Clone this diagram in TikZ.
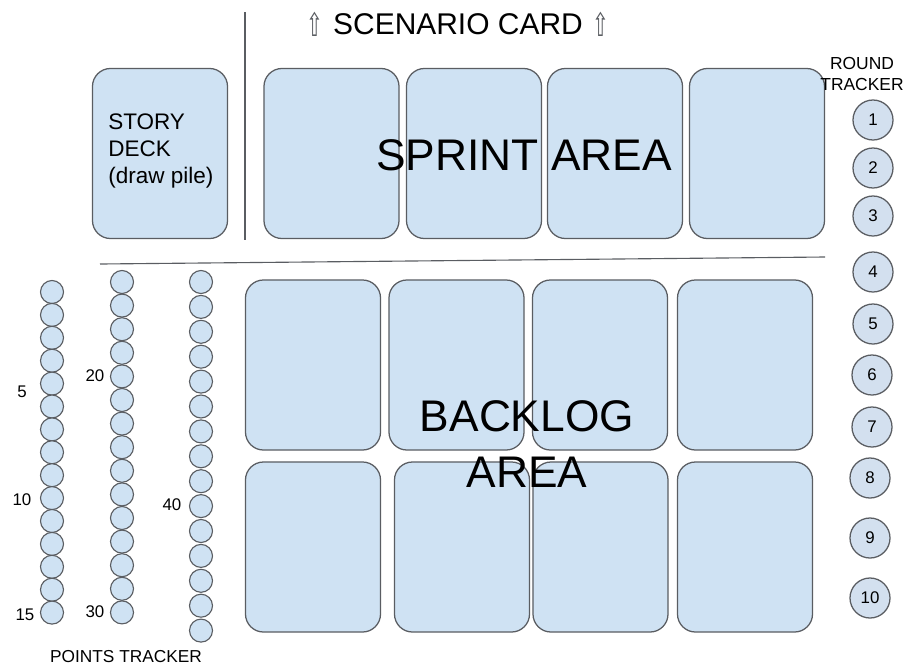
\documentclass[tikz,border=0pt]{standalone}
\usepackage{fontspec}
\setmainfont{Liberation Sans}
\newfontfamily\arrowfont{DejaVu Sans}
\usetikzlibrary{positioning}
\definecolor{cardblue}{HTML}{CFE2F3}
\definecolor{tokenblue}{HTML}{D3E0EF}
\definecolor{edgegray}{HTML}{5A5D62}
\tikzset{
    card/.style={draw=edgegray, fill=cardblue, rounded corners=0.45cm, line width=0.9pt,
        minimum width=3.375cm, minimum height=4.25cm, inner sep=0pt},
    token/.style={circle, draw=edgegray, fill=cardblue, line width=0.8pt,
        minimum size=0.575cm, inner sep=0pt},
    roundtoken/.style={circle, draw=edgegray, fill=tokenblue, line width=0.9pt,
        minimum size=1cm, inner sep=0pt, font=\fontsize{12}{14}\selectfont},
    ptlabel/.style={inner sep=0pt, font=\fontsize{12}{14}\selectfont},
    bigtext/.style={inner sep=0pt, font=\fontsize{31.5}{40}\selectfont},
    arrowglyph/.style={inner sep=0pt, text=edgegray, font=\fontsize{23}{26}\arrowfont},
    sepline/.style={draw=edgegray, line width=0.8pt}
}
\begin{document}
\begin{tikzpicture}[x=0.025cm, y=-0.025cm]
    \useasboundingbox (0,0) rectangle (908,667);
    % separators
    \draw[sepline] (245,12) -- (245,240);
    \draw[sepline] (100,264) -- (825,257);
    % scenario card
    \node[inner sep=0pt, font=\fontsize{21.3}{24}\selectfont] (scen) at (458,24) {SCENARIO CARD};
    \node[arrowglyph, left=9*0.025cm of scen] (arrl) {\scalebox{0.62}[1]{⇧}};
    \node[arrowglyph, right=9*0.025cm of scen] (arrr) {\scalebox{0.62}[1]{⇧}};
    % story deck
    \node[card] (deck) at (160,153.5) {};
    \node[inner sep=0pt, anchor=west, align=left, font=\fontsize{16}{19.2}\selectfont]
        (decktext) at (108,151) {STORY\\DECK\\(draw pile)};
    % sprint area
    \node[card] (s1) at (331.5,153.5) {};
    \node[card] (s2) at (474,153.5) {};
    \node[card] (s3) at (615,153.5) {};
    \node[card] (s4) at (757,153.5) {};
    \node[bigtext] (sprint) at (524,155) {SPRINT AREA};
    % backlog area
    \node[card] (b1) at (313,365) {};
    \node[card] (b2) at (456.5,365) {};
    \node[card] (b3) at (600,365) {};
    \node[card] (b4) at (745,365) {};
    \node[card] (b5) at (313,547) {};
    \node[card] (b6) at (462,547) {};
    \node[card] (b7) at (600.5,547) {};
    \node[card] (b8) at (745,547) {};
    \node[bigtext, align=center] (backlog) at (527,444) {BACKLOG\\AREA};
    % round tracker
    \node[inner sep=0pt, align=center, font=\fontsize{12.4}{15.6}\selectfont]
        (roundtitle) at (862,74) {ROUND\\TRACKER};
    \foreach \i/\xx/\yy in {1/873/120, 2/873/168, 3/873/216, 4/873/272, 5/873/324,
        6/872/375, 7/872/427, 8/870/478, 9/870/538, 10/870/598}
        \node[roundtoken] (r\i) at (\xx,\yy) {\i};
    % points tracker
    \foreach \i in {1,...,15}
        \node[token] (p\i) at (52,{292+(\i-1)*22.9}) {};
    \foreach \i in {16,...,30}
        \node[token] (p\i) at (122,{282+(\i-16)*23.6}) {};
    \foreach \i in {31,...,45}
        \node[token] (p\i) at (201,{282+(\i-31)*24.9}) {};
    \node[ptlabel] (l5) at (22,392) {5};
    \node[ptlabel] (l10) at (22,500) {10};
    \node[ptlabel] (l15) at (25,615) {15};
    \node[ptlabel] (l20) at (95,376) {20};
    \node[ptlabel] (l30) at (95,612) {30};
    \node[ptlabel] (l40) at (172,505) {40};
    \node[inner sep=0pt, font=\fontsize{12.3}{14}\selectfont] (pointstitle) at (126,657) {POINTS TRACKER};
\end{tikzpicture}
\end{document}
